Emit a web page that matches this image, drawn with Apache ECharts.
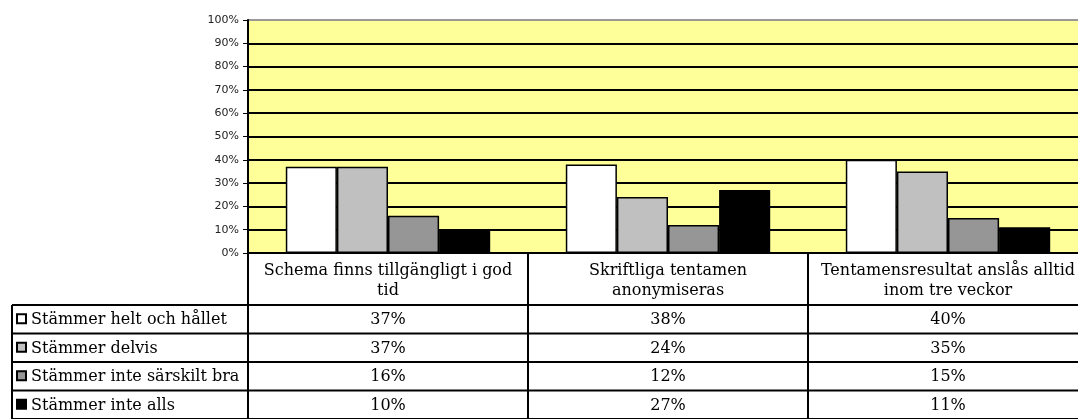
<!DOCTYPE html>
<html>
<head>
<meta charset="utf-8">
<script src="https://cdn.jsdelivr.net/npm/echarts@6/dist/echarts.min.js"></script>
<style>
html, body { margin: 0; padding: 0; background: #fff; overflow: hidden; }
/* the original chart is cut off at the right edge, so the canvas is a bit wider than the window */
#chart { width: 1090px; height: 419px; }
</style>
</head>
<body>
<div id="chart"></div>
<script>
// data
var categories = ['Schema finns tillgängligt i god tid', 'Skriftliga tentamen anonymiseras', 'Tentamensresultat anslås alltid inom tre veckor']
var categoryLabels = ['Schema finns tillgängligt i god\ntid', 'Skriftliga tentamen\nanonymiseras', 'Tentamensresultat anslås alltid\ninom tre veckor']
var seriesNames = ['Stämmer helt och hållet', 'Stämmer delvis', 'Stämmer inte särskilt bra', 'Stämmer inte alls']
var heltOchHallet = [37, 38, 40]
var delvis = [37, 24, 35]
var inteSarskiltBra = [16, 12, 15]
var inteAlls = [10, 27, 11]

var seriesData = [heltOchHallet, delvis, inteSarskiltBra, inteAlls]
var colors = ['#ffffff', '#c0c0c0', '#969696', '#000000']
var serif = '"DejaVu Serif", serif'
var fontSize = 16

var chart = echarts.init(document.getElementById('chart'), null, { renderer: 'canvas' })

var splitColors = []
for (var i = 0; i < 10; i++) splitColors.push('#000')
splitColors.push('#999')

var option = {
  animation: false,
  grid: {
    left: 248,
    top: 20,
    right: 2,
    bottom: 166,
    show: true,
    backgroundColor: '#ffff99',
    borderWidth: 0
  },
  xAxis: {
    type: 'category',
    data: categories,
    axisLine: { lineStyle: { color: '#000', width: 2 } },
    axisTick: { show: false },
    axisLabel: {
      interval: 0,
      margin: 8,
      fontFamily: serif,
      fontSize: fontSize,
      lineHeight: 20,
      color: '#000',
      formatter: function(val, idx) { return categoryLabels[idx] }
    }
  },
  yAxis: {
    type: 'value',
    min: 0,
    max: 100,
    interval: 10,
    axisLine: { show: true, lineStyle: { color: '#000', width: 2 } },
    axisTick: { show: true, length: 5, lineStyle: { color: '#000', width: 1 } },
    axisLabel: {
      margin: 9,
      fontFamily: '"DejaVu Sans", sans-serif',
      fontSize: 11,
      color: '#222',
      formatter: '{value}%'
    },
    splitLine: { show: true, lineStyle: { color: splitColors, width: 2 } }
  },
  series: seriesNames.map(function(name, i) {
    return {
      name: name,
      type: 'bar',
      data: seriesData[i],
      barGap: '0%',
      barCategoryGap: '27%',
      itemStyle: { color: colors[i], borderColor: '#000', borderWidth: 1.5 }
    }
  })
}
chart.setOption(option)

// data table under the plot
function buildTable() {
  var centers = categories.map(function(c) {
    return chart.convertToPixel({ xAxisIndex: 0 }, c)
  })
  var band = centers[1] - centers[0]
  var base = chart.convertToPixel({ yAxisIndex: 0 }, 0)
  var headerBottom = base + 52
  var rowH = 28.5
  var leftX = 12
  var plotLeft = centers[0] - band / 2
  var rightX = 1100
  var bottomY = 430
  var els = []
  function line(x1, y1, x2, y2) {
    els.push({ type: 'line', shape: { x1: x1, y1: y1, x2: x2, y2: y2 }, style: { stroke: '#000', lineWidth: 2 }, z: 10 })
  }
  // vertical borders
  for (var c = 0; c <= categories.length; c++) {
    line(plotLeft + band * c, base, plotLeft + band * c, bottomY)
  }
  line(leftX, headerBottom, leftX, bottomY)
  // horizontal borders
  for (var r = 0; r <= seriesNames.length; r++) {
    line(leftX, headerBottom + rowH * r, rightX, headerBottom + rowH * r)
  }
  seriesNames.forEach(function(name, r) {
    var cy = headerBottom + rowH * r + rowH / 2
    els.push({ type: 'rect', shape: { x: 17, y: cy - 5, width: 9, height: 9 },
      style: { fill: colors[r], stroke: '#000', lineWidth: 2 }, z: 11 })
    els.push({ type: 'text', x: 31, y: cy + 1, z: 11,
      style: { text: name, font: fontSize + 'px ' + serif, fill: '#000', align: 'left', verticalAlign: 'middle' } })
    seriesData[r].forEach(function(v, i) {
      els.push({ type: 'text', x: centers[i], y: cy + 1, z: 11,
        style: { text: v + '%', font: fontSize + 'px ' + serif, fill: '#000', align: 'center', verticalAlign: 'middle' } })
    })
  })
  chart.setOption({ graphic: { elements: els } })
}
buildTable()
</script>
</body>
</html>
